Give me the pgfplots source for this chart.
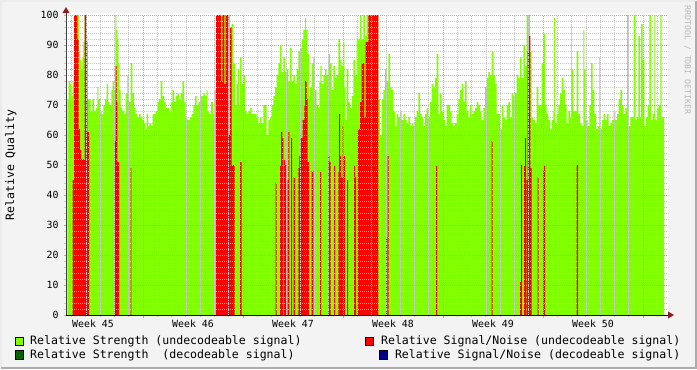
\documentclass[border=0pt]{standalone}
\usepackage{fontspec}
\setmainfont{DejaVu Sans Mono}
\usepackage{pgfplots}
\pgfplotsset{compat=1.18}
\definecolor{bg}{RGB}{243,243,243}
\definecolor{lgreen}{RGB}{128,255,0}
\definecolor{dgreen}{RGB}{0,100,0}
\definecolor{dblue}{RGB}{0,0,140}
\definecolor{sred}{RGB}{255,0,0}
\definecolor{gridred}{RGB}{228,150,150}
\definecolor{gridgray}{RGB}{200,200,200}
\definecolor{arrowred}{RGB}{140,30,30}
\newcommand\axfont{\fontsize{9.9}{12}\selectfont}
\newcommand\legfont{\fontsize{11.6}{14}\selectfont}
\begin{document}
\begin{tikzpicture}[x=1bp,y=1bp]
\useasboundingbox (0,0) rectangle (697,-369);
\fill[bg] (0,0) rectangle (697,-369);
\draw[white!85!gray, line width=2bp] (1,-368) -- (1,-1) -- (696,-1);
\draw[gray!65, line width=2bp] (1,-368) -- (696,-368) -- (696,-1);
\fill[white] (66,-13) rectangle (668,-315);
\begin{axis}[
  at={(66bp,-315bp)}, anchor=south west, scale only axis,
  width=602bp, height=300bp,
  xmin=66, xmax=668, ymin=0, ymax=100,
  axis background/.style={fill=white},
  axis on top,
  axis line style={draw=none},
  xtick pos=bottom, ytick pos=left,
  tick align=outside,
  major tick length=2.5bp, minor tick length=1.8bp,
  every major tick/.append style={draw=gridred, line width=0.8bp},
  every minor tick/.append style={draw=gridgray, line width=0.8bp},
  xtick={143,243,343,443,543,643}, xticklabels={},
  minor xtick={71.571,85.857,...,668},
  ytick={0,10,...,100},
  minor ytick={2,4,...,98},
  grid=both,
  major grid style={dash pattern=on 1bp off 1bp, draw=gridred, line width=0.75bp},
  minor grid style={dash pattern=on 1bp off 1bp, draw=gridgray, line width=0.7bp},
  /pgf/number format/assume math mode=true,
  yticklabel style={font=\axfont, anchor=east, xshift=-1.5bp},
  xticklabel style={font=\axfont, anchor=north, yshift=-1bp},
  extra x ticks={93,193,293,393,493,593},
  extra x tick labels={Week 45,Week 46,Week 47,Week 48,Week 49,Week 50},
  extra x tick style={grid=none, major tick length=0pt},
]
\addplot[const plot, fill=lgreen, draw=none] coordinates {
(67.3,72) (68.7,78) (70,77) (71.3,73) (72.7,78) (74,100) (79,88) (80,85) (81.3,82) (82.3,86)
(83.3,91) (84.7,100) (86,93) (87.3,72) (90.7,68) (92.3,72) (94,68) (95.7,69) (97.3,76) (98.3,72)
(100,68) (101.7,67) (103.3,70) (105,72) (106.7,77) (108,71) (109.3,70) (111.3,75) (112.7,78) (114,75)
(115.3,100) (116.3,95) (117.3,92) (118.3,84) (119.3,75) (120.7,69) (122.3,68) (124,67) (125.7,74) (127.3,80)
(129,71) (130.7,84) (132.3,74) (134,69) (135.7,67) (137.3,66) (139,67) (140.7,66) (142.3,65) (144,64)
(145.7,62) (146.7,67) (148,63) (149.3,64) (151.3,63) (152.7,67) (155.7,68) (157.3,71) (159,72) (160.7,78)
(162.3,73) (164,71) (165.7,69) (169,68) (170.7,71) (172.3,75) (174,71) (175.7,73) (177.3,74) (179,72)
(180.7,74) (182.3,78) (184,71) (185.7,66) (187.3,65) (190,66) (191.7,67) (193.3,70) (195,73) (196.7,70)
(198.3,71) (200,75) (201,73) (203.3,74) (205,73) (206.7,75) (207.7,68) (209,67) (211,71) (213.3,67)
(214.3,75) (216,100) (230,93) (231.7,97) (233.3,84) (235,70) (236.7,77) (237.7,82) (239,70) (240,86)
(241.7,77) (243.3,80) (245,68) (246.7,67) (248.3,68) (250,69) (251.7,67) (256.7,66) (258.3,64) (260,66)
(261.7,64) (263.3,70) (265,70) (266.7,60) (268.3,65) (270,66) (271.7,70) (273.3,73) (275,76) (276.7,80)
(278.3,84) (280,90) (281.7,81) (283.3,86) (285,81) (286.7,82) (288.3,78) (290,89) (291.7,78) (293.3,80)
(295,77) (296.7,82) (298.3,88) (300,89) (301.7,92) (303.3,95) (305,99) (306,95) (307.7,87) (309,73)
(310,76) (311.7,84) (313.3,86) (315,75) (316.7,70) (318.3,69) (319.3,78) (320.3,83) (321.7,77) (323.3,80)
(325,82) (326.7,80) (328.3,87) (330,84) (331.7,75) (333.3,83) (335,79) (336.7,80) (338.3,92) (340,85)
(341.7,83) (343.3,91) (344.3,76) (345.7,65) (346.7,82) (348.3,71) (350,69) (351.7,73) (353.3,85) (355,80)
(356.7,92) (360,100) (361.7,92) (363.3,100) (365,93) (366.7,100) (378.3,72) (380,60) (381.7,72) (383.3,75)
(385,82) (386.7,78) (388.3,87) (390,76) (391.7,75) (393.3,68) (395,63) (396.7,67) (398.3,66) (400,68)
(401.7,65) (403.3,67) (405,65) (406.7,64) (408.3,66) (410,63) (411.7,64) (413.3,63) (415,66) (416.7,68)
(418.3,74) (420,67) (421.7,66) (423.3,63) (425,67) (426.7,69) (428.3,66) (430,71) (431.7,77) (433.3,76)
(435,79) (436.7,87) (438.3,67) (440,74) (441.7,68) (443.3,65) (445,63) (446.7,70) (450,68) (451.7,64)
(453.3,63) (455,64) (456.7,67) (458.3,72) (460,75) (461.7,77) (463.3,71) (465,78) (466.7,68) (468.3,66)
(470,70) (471.7,67) (473.3,68) (475,69) (476.7,71) (478.3,70) (480,68) (481.7,65) (483.3,69) (485,76)
(486.7,79) (488.3,81) (490,80) (491.7,88) (493.3,80) (495,77) (496.7,67) (500,62) (501.7,70) (503.3,66)
(505,65) (506.7,70) (508.3,71) (510,66) (511.7,74) (513.3,73) (515,74) (516.7,80) (518.3,79) (520,86)
(521.7,79) (523.3,90) (525,83) (526.7,100) (530,88) (531.7,66) (533.3,65) (535,64) (536.7,76) (538.3,70)
(541.7,84) (543.3,94) (545,70) (546.7,67) (548.3,65) (550,62) (551.7,65) (553.3,68) (554,99) (555,64)
(556.7,67) (558.3,70) (560,74) (561.7,79) (563.3,75) (565,70) (566.7,64) (568.3,68) (570,66) (571,97)
(571.7,82) (573.3,68) (576.7,88) (578.3,67) (580,64) (581.7,63) (583.3,95) (584.3,82) (585.7,65) (587.7,63)
(589.3,70) (591,84) (592.7,75) (594.3,67) (596,62) (597.7,63) (599.3,86) (600.3,62) (602,65) (603.7,67)
(605.3,65) (607,67) (608.7,63) (610.3,64) (612,65) (613.7,68) (615.3,65) (617,67) (618.7,72) (620.3,75)
(622,70) (623.7,67) (625.3,69) (627,100) (628.7,63) (630.3,66) (633.7,100) (635.7,65) (636.7,66) (638.3,93)
(640,66) (641,97) (642.7,85) (644.3,63) (646,66) (647.7,70) (649.3,100) (651,65) (652.7,67) (654.3,100)
(655.3,65) (657,69) (658.7,70) (660.3,100) (661.7,66) (664,66)
} \closedcycle;
\addplot[const plot, fill=sred, draw=none] coordinates {
(67,0) (72.7,45) (74,100) (77.3,92) (78.7,62) (80,55) (81.3,0) (81.7,52) (84.7,100) (86.7,91)
(87.3,61) (89,0) (114.7,58) (115.7,83) (116.7,71) (117.3,51) (119,0) (130.7,49) (131.3,0)
(216,100) (221,78) (222.3,100) (224.3,77) (225.7,100) (228.3,60) (230,96) (231.7,50) (234.7,0)
(240,51) (241.7,0) (275.7,44) (276.7,0) (280,50) (281,61) (282.3,59) (283.3,0) (284,52) (285,50)
(286,0) (287.7,45) (288.3,61) (289.3,0) (291,59) (292,0) (293.7,46) (295,0) (298.3,49) (299.3,53)
(300.7,59) (302.7,65) (304.3,70) (305,78) (306.7,72) (307.7,51) (309,0) (311.7,48) (313.3,0)
(320,48) (321,0) (328.3,53) (329.3,51) (330.7,0) (334,50) (335,0) (338.3,48) (339,67) (340,53)
(341,46) (342.7,63) (343.3,53) (345,0) (347,45) (348,0) (354,50) (355,46) (356,0) (357.7,62)
(360,71) (361.7,84) (364.3,66) (365.7,91) (368.3,100) (378.3,0) (386,26) (387,0) (387.7,53) (388.7,0)
(436,50) (437,0) (491.7,58) (492.7,0) (520,11) (521,50) (522,0) (524,50) (525,59) (526,0)
(526.7,45) (527.7,88) (529,93) (530.3,49) (531.7,0) (537.7,46) (538.7,0) (543,48) (544,50) (545,0)
(576.7,50) (578,0) (664,0)
} \closedcycle;
\end{axis}
% axis lines and arrows
\draw[black!75, line width=1bp] (66,-315) -- (66,-12);
\draw[black, line width=1bp] (66,-315) -- (669,-315);
\fill[arrowred] (62.5,-13) -- (69.5,-13) -- (66,-7) -- cycle;
\fill[arrowred] (668,-311.5) -- (668,-318.5) -- (674,-315) -- cycle;
% y label
\node[rotate=90, font=\legfont] at (11,-165) {Relative Quality};
% watermark
\node[rotate=-90, font=\fontsize{8.3}{9}\selectfont, text=gray!55] at (687.5,-60) {RRDTOOL / TOBI OETIKER};
% legend
\filldraw[fill=lgreen, draw=black, line width=0.7bp] (15.3,-337) rectangle (23.5,-345.3);
\node[anchor=west, font=\legfont, inner sep=0pt] at (30,-341.2) {Relative Strength (undecodeable signal)};
\filldraw[fill=dgreen, draw=black, line width=0.7bp] (15.3,-350.8) rectangle (23.5,-359.1);
\node[anchor=west, font=\legfont, inner sep=0pt] at (30,-355) {Relative Strength\ \ (decodeable signal)};
\filldraw[fill=sred, draw=black, line width=0.7bp] (365.3,-337) rectangle (373.5,-345.3);
\node[anchor=east, font=\legfont, inner sep=0pt] at (680.5,-341.2) {Relative Signal/Noise (undecodeable signal)};
\filldraw[fill=dblue, draw=black, line width=0.7bp] (379.5,-350.8) rectangle (387.7,-359.1);
\node[anchor=east, font=\legfont, inner sep=0pt] at (680.5,-355) {Relative Signal/Noise (decodeable signal)};
\end{tikzpicture}
\end{document}
